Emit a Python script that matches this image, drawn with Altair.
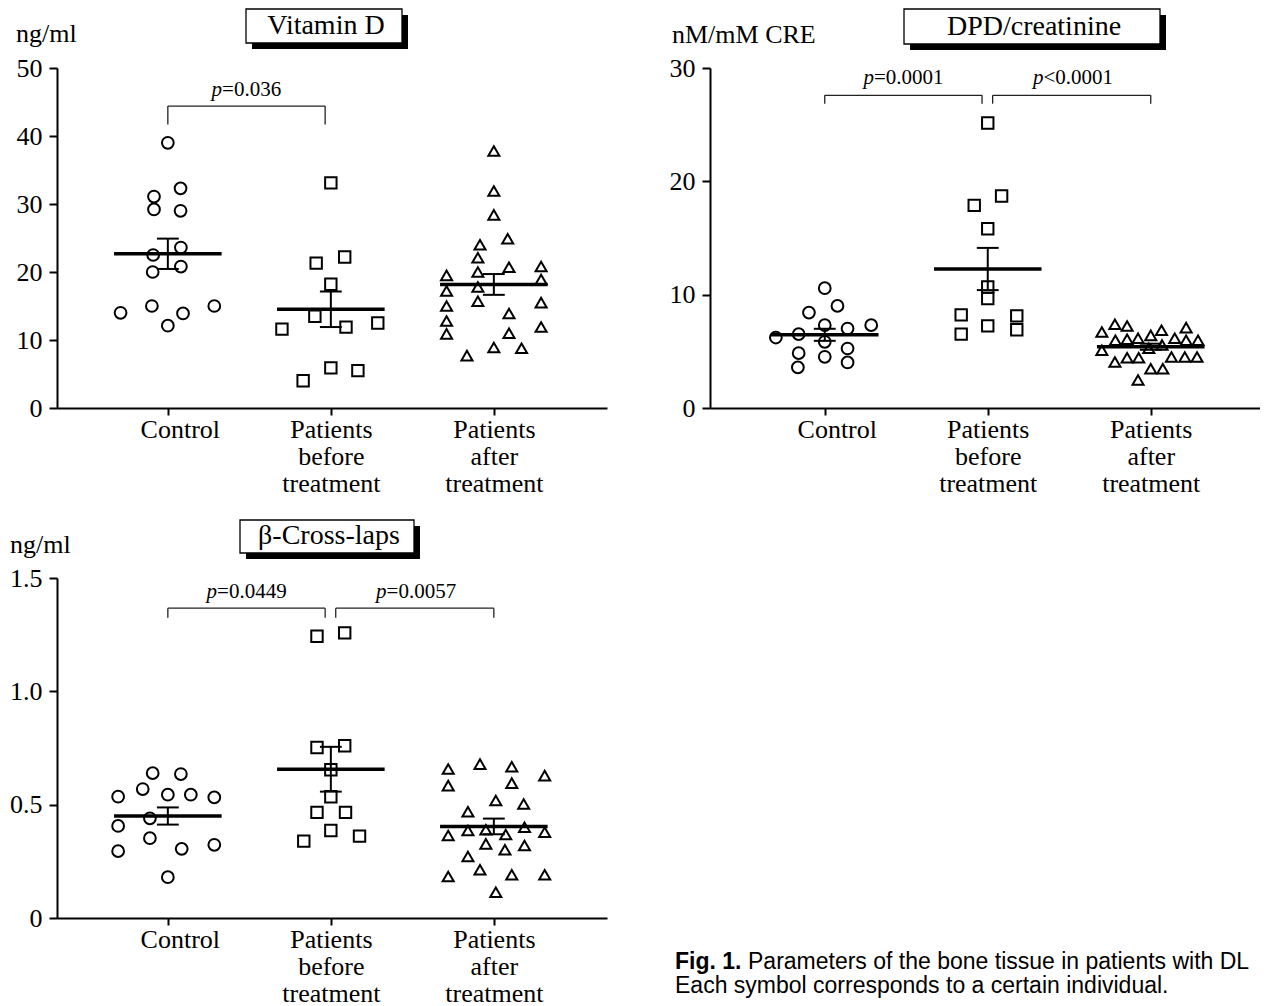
import altair as alt
import pandas as pd

SERIF = "Liberation Serif"
SANS = "Liberation Sans"

GROUPS = [1, 2, 3]
GROUP_SHAPES = ["circle", "square", "triangle-up"]
GROUP_SIZES = [138, 122, 145]
X_LABEL_EXPR = ("datum.value == 1 ? 'Control' : datum.value == 2 ? "
                "['Patients', 'before', 'treatment'] : ['Patients', 'after', 'treatment']")

# ---------------- Vitamin D (ng/ml) ----------------
vd_ctrl = [39.0, 31.1, 32.3, 29.2, 29.0, 23.6, 22.5, 20.8, 20.0, 14.0, 15.0, 13.9, 15.0, 12.1]
vd_ctrl_dx = [0, -0.085, 0.078, -0.085, 0.078, 0.08, -0.09, 0.08, -0.093, -0.29, -0.098, 0.093, 0.285, 0]
vd_before = [33.1, 21.3, 22.2, 18.2, 13.5, 11.6, 11.9, 12.5, 5.9, 5.5, 4.0]
vd_before_dx = [0, -0.09, 0.085, 0, -0.098, -0.3, 0.093, 0.288, 0, 0.166, -0.17]
vd_after = [37.8, 31.9, 28.4, 24.9, 24.0, 22.1, 19.5, 20.0, 20.7, 20.8, 18.9, 17.2,
            17.8, 15.7, 15.5, 15.0, 13.9, 12.8, 11.9, 10.9, 11.0, 8.9, 8.8, 7.7]
vd_after_dx = [0, 0, 0, 0.085, -0.085, -0.098, -0.29, -0.098, 0.093, 0.29, 0.29, -0.29,
               -0.098, -0.098, 0.29, -0.29, 0.093, -0.29, 0.29, -0.29, 0.093, 0, 0.17, -0.165]

# ---------------- DPD/creatinine (nM/mM CRE) ----------------
dpd_ctrl = [10.57, 9.01, 8.42, 6.22, 6.52, 7.31, 7.01, 7.31, 5.84, 5.25, 4.84, 4.52, 4.02, 3.58]
dpd_ctrl_dx = [0, 0.078, -0.097, -0.30, -0.16, 0, 0.14, 0.285, 0, 0.14, -0.16, 0, 0.14, -0.165]
dpd_before = [25.15, 18.7, 17.88, 15.82, 10.68, 9.66, 8.22, 8.13, 7.25, 6.52, 6.9]
dpd_before_dx = [0, 0.085, -0.083, 0, 0, 0, -0.163, 0.178, 0, -0.163, 0.178]
dpd_after = [7.39, 7.24, 7.09, 6.86, 6.71, 5.97, 6.06, 6.15, 6.41, 6.15, 5.97, 5.97,
             5.56, 5.09, 5.27, 4.06, 4.44, 4.44, 4.5, 4.5, 4.5, 3.47, 3.47, 2.47]
dpd_after_dx = [-0.22, -0.145, 0.217, 0.066, -0.30, -0.217, -0.145, -0.078, 0, 0.147, 0.217, 0.29,
                0.069, -0.30, -0.012, -0.22, -0.145, -0.074, 0.127, 0.209, 0.284, 0, 0.074, -0.078]

# ---------------- beta-Cross-laps (ng/ml) ----------------
bc_ctrl = [0.639, 0.635, 0.569, 0.535, 0.544, 0.544, 0.532, 0.440, 0.406, 0.352, 0.295, 0.305, 0.323, 0.180]
bc_ctrl_dx = [-0.093, 0.08, -0.154, -0.305, 0, 0.141, 0.285, -0.11, -0.305, -0.11, -0.305, 0.085, 0.285, 0]
bc_before = [1.243, 1.258, 0.752, 0.760, 0.654, 0.535, 0.466, 0.466, 0.386, 0.339, 0.361]
bc_before_dx = [-0.085, 0.085, -0.085, 0.085, 0, 0, -0.085, 0.09, 0, -0.166, 0.176]
bc_after = [0.657, 0.679, 0.667, 0.628, 0.584, 0.595, 0.518, 0.503, 0.469, 0.364, 0.386, 0.389,
            0.368, 0.400, 0.378, 0.327, 0.301, 0.320, 0.271, 0.213, 0.183, 0.191, 0.191, 0.114]
bc_after_dx = [-0.28, -0.085, 0.11, 0.312, -0.28, 0.11, 0.012, 0.183, -0.159, -0.28, -0.159, -0.049,
               0.073, 0.188, 0.312, -0.049, 0.068, 0.188, -0.159, -0.085, -0.28, 0.11, 0.312, 0.012]

# p-value annotations: (left group, right group, relation, value)
vd_p = [(1, 2, "=", "0.036")]
dpd_p = [(1, 2, "=", "0.0001"), (2, 3, "<", "0.0001")]
bc_p = [(1, 2, "=", "0.0449"), (2, 3, "=", "0.0057")]

CAPTION_BOLD = "Fig. 1."
CAPTION_LINE1 = "Parameters of the bone tissue in patients with DLE"
CAPTION_LINE2 = "Each symbol corresponds to a certain individual."

# ---------------- layout / style constants ----------------
W, H = 550, 340
MEAN_HALF = 0.33
CAP_HALF = 0.067
SHADOW = 6


def make_df(vals_list, dx_list):
    rows = []
    for g, vals, dxs in zip(GROUPS, vals_list, dx_list):
        for v, d in zip(vals, dxs):
            rows.append({"g": g, "dx": d, "value": v})
    return pd.DataFrame(rows)


def bracket_df(pvals, y_top, y_bot, y_text):
    rows = []
    for a, b, rel, num in pvals:
        xl = a if a == 1 else a + 0.03
        xr = b if b == 3 else b - 0.035
        rows.append({"xl": xl, "xr": xr, "xc": (a + b) / 2 - 0.02 if a == 1 else (a + b) / 2 + 0.02,
                     "yt": y_top, "yb": y_bot, "ytext": y_text, "rest": rel + num})
    return pd.DataFrame(rows)


def X(field, **kw):
    return alt.X(field, title=None, **kw)


def Y(field, **kw):
    return alt.Y(field, title=None, **kw)


def panel(df, cfg):
    xscale = alt.Scale(domain=cfg["xdomain"], nice=False, zero=False)
    yscale = alt.Scale(domain=cfg["ydomain"], nice=False, zero=False)
    xaxis = alt.Axis(values=GROUPS, labelExpr=X_LABEL_EXPR, tickSize=7, tickWidth=2,
                     domainWidth=2, labelFontSize=26, labelLineHeight=27, labelPadding=1,
                     labelFont=SERIF, labelAngle=0, labelAlign="center", labelBaseline="top",
                     labelFlush=False, grid=False, labelOverlap=False,
                     labelOffset=alt.condition("datum.value == 1", alt.value(12), alt.value(0)))
    yaxis = alt.Axis(values=cfg["yticks"], labelExpr=cfg["ylabel"],
                     labelFontSize=26, labelFont=SERIF, labelPadding=7,
                     tickSize=8, tickWidth=2, domainWidth=2, grid=False, labelFlush=False,
                     labelOverlap=False)

    base = alt.Chart(df).transform_calculate(x="datum.g + datum.dx")
    pts = base.mark_point(filled=False, strokeWidth=2, color="black", opacity=1).encode(
        x=X("x:Q", scale=xscale, axis=xaxis),
        y=Y("value:Q", scale=yscale, axis=yaxis),
        shape=alt.Shape("g:N", scale=alt.Scale(domain=GROUPS, range=GROUP_SHAPES), legend=None),
        size=alt.Size("g:O", scale=alt.Scale(domain=GROUPS, range=GROUP_SIZES), legend=None),
    )

    stats = base.transform_aggregate(
        m="mean(value)", se="stderr(value)", groupby=["g"]
    ).transform_calculate(
        xl=f"datum.g - {MEAN_HALF}", xr=f"datum.g + {MEAN_HALF}",
        cl=f"datum.g - {CAP_HALF}", cr=f"datum.g + {CAP_HALF}",
        lo="datum.m - datum.se", hi="datum.m + datum.se",
    )
    mean_rule = stats.mark_rule(strokeWidth=3.5, color="black").encode(
        x=X("xl:Q"), x2="xr:Q", y=Y("m:Q"))
    whisker = stats.mark_rule(strokeWidth=2, color="black").encode(
        x=X("g:Q"), y=Y("lo:Q"), y2="hi:Q")
    cap_hi = stats.mark_rule(strokeWidth=2, color="black").encode(
        x=X("cl:Q"), x2="cr:Q", y=Y("hi:Q"))
    cap_lo = stats.mark_rule(strokeWidth=2, color="black").encode(
        x=X("cl:Q"), x2="cr:Q", y=Y("lo:Q"))

    br = alt.Chart(cfg["brackets"])
    br_h = br.mark_rule(strokeWidth=1.3, color="#222").encode(
        x=X("xl:Q"), x2="xr:Q", y=Y("yt:Q"))
    br_l = br.mark_rule(strokeWidth=1.3, color="#222").encode(
        x=X("xl:Q"), y=Y("yb:Q"), y2="yt:Q")
    br_r = br.mark_rule(strokeWidth=1.3, color="#222").encode(
        x=X("xr:Q"), y=Y("yb:Q"), y2="yt:Q")
    p_it = br.mark_text(font=SERIF, fontSize=21, fontStyle="italic", align="right",
                        baseline="alphabetic", dx=cfg["pdx"], color="black").encode(
        x=X("xc:Q"), y=Y("ytext:Q"), text=alt.value("p"))
    p_rest = br.mark_text(font=SERIF, fontSize=21, align="left", baseline="alphabetic",
                          dx=cfg["pdx"], color="black").encode(
        x=X("xc:Q"), y=Y("ytext:Q"), text="rest:N")

    one = alt.Chart(pd.DataFrame({"title": [cfg["title"]], "unit": [cfg["unit"]]}))
    bx0, bx1, by0, by1 = cfg["box"]
    shadow = one.mark_rect(color="black").encode(
        x=alt.value(bx0 + SHADOW), x2=alt.value(bx1 + SHADOW),
        y=alt.value(by0 + SHADOW), y2=alt.value(by1 + SHADOW))
    box = one.mark_rect(fill="white", stroke="black", strokeWidth=1.3).encode(
        x=alt.value(bx0), x2=alt.value(bx1), y=alt.value(by0), y2=alt.value(by1))
    ttl = one.mark_text(font=SERIF, fontSize=28, align="center", baseline="alphabetic",
                        color="black").encode(
        x=alt.value((bx0 + bx1) / 2 + 2), y=alt.value(by1 - 9), text="title:N")
    unit = one.mark_text(font=SERIF, fontSize=26, align="left", baseline="alphabetic",
                         color="black").encode(
        x=alt.value(cfg["unit_x"]), y=alt.value(cfg["unit_y"]), text="unit:N")

    return alt.layer(pts, shadow, box, ttl, unit, br_h, br_l, br_r, p_it, p_rest,
                     mean_rule, whisker, cap_hi, cap_lo).properties(width=W, height=H)


p1 = panel(make_df([vd_ctrl, vd_before, vd_after], [vd_ctrl_dx, vd_before_dx, vd_after_dx]), {
    "xdomain": [0.32, 0.32 + W / 163.0], "ydomain": [0, 50], "yticks": [0, 10, 20, 30, 40, 50],
    "ylabel": "format(datum.value, 'd')", "unit": "ng/ml", "unit_x": -41, "unit_y": -26,
    "brackets": bracket_df(vd_p, 44.4, 41.7, 45.9), "pdx": -24,
    "title": "Vitamin D", "box": [189, 345, -59, -25],
})
p2 = panel(make_df([dpd_ctrl, dpd_before, dpd_after], [dpd_ctrl_dx, dpd_before_dx, dpd_after_dx]), {
    "xdomain": [0.296, 0.296 + W / 163.0], "ydomain": [0, 30], "yticks": [0, 10, 20, 30],
    "ylabel": "format(datum.value, 'd')", "unit": "nM/mM CRE", "unit_x": -38, "unit_y": -25,
    "brackets": bracket_df(dpd_p, 27.59, 26.85, 28.56), "pdx": -29,
    "title": "DPD/creatinine", "box": [194, 450, -59, -24],
})
p3 = panel(make_df([bc_ctrl, bc_before, bc_after], [bc_ctrl_dx, bc_before_dx, bc_after_dx]), {
    "xdomain": [0.32, 0.32 + W / 163.0], "ydomain": [0, 1.5], "yticks": [0, 0.5, 1.0, 1.5],
    "ylabel": "datum.value == 0 ? '0' : format(datum.value, '.1f')", "unit": "ng/ml",
    "unit_x": -47, "unit_y": -25,
    "brackets": bracket_df(bc_p, 1.367, 1.325, 1.413), "pdx": -29,
    "title": "\u03b2-Cross-laps", "box": [183, 357, -58, -25],
})

cap_base = alt.Chart(pd.DataFrame({"t": [0]}))
CAP_X, CAP_Y1, CAP_Y2, BOLD_W = -35, 391, 415, 73
c1 = cap_base.mark_text(font=SANS, fontSize=23, fontWeight="bold", align="left",
                        baseline="alphabetic", color="black").encode(
    x=alt.value(CAP_X), y=alt.value(CAP_Y1), text=alt.value(CAPTION_BOLD))
c2 = cap_base.mark_text(font=SANS, fontSize=23, align="left", baseline="alphabetic",
                        color="black", limit=512, ellipsis="\u200b").encode(
    x=alt.value(CAP_X + BOLD_W), y=alt.value(CAP_Y1), text=alt.value(CAPTION_LINE1))
c3 = cap_base.mark_text(font=SANS, fontSize=23, align="left", baseline="alphabetic",
                        color="black").encode(
    x=alt.value(CAP_X), y=alt.value(CAP_Y2), text=alt.value(CAPTION_LINE2))
caption = alt.layer(c1, c2, c3).properties(width=W, height=H)

chart = alt.concat(
    p1, p2, p3, caption, columns=2, spacing={"row": 170, "column": 103}, bounds="flush"
).properties(
    padding={"left": 1, "top": 0, "right": 0, "bottom": 0}
).configure_view(stroke=None).configure_axis(
    domainColor="black", tickColor="black", labelColor="black", titleColor="black"
)

chart.save("out.html", embed_options={"renderer": "svg", "actions": False})
